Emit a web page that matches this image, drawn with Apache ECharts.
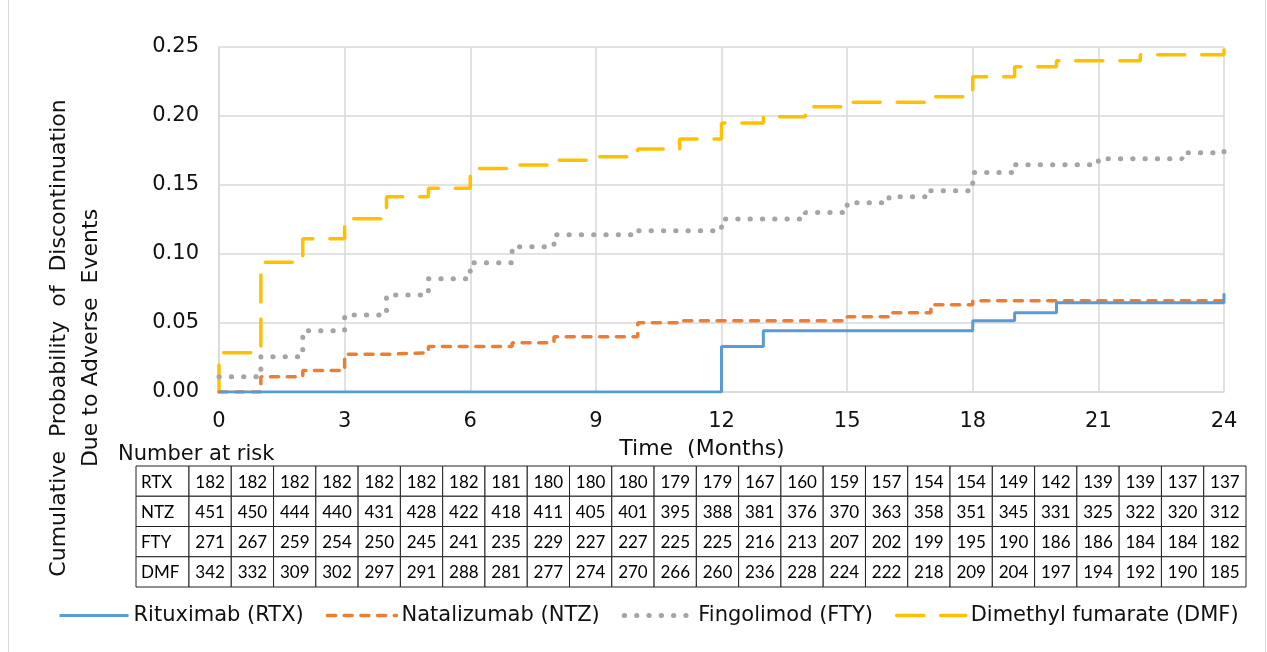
<!DOCTYPE html>
<html><head><meta charset="utf-8">
<script src="https://cdn.jsdelivr.net/npm/echarts@6/dist/echarts.min.js"></script>
<style>html,body{margin:0;padding:0;background:#fff}#c{width:1267px;height:652px}</style>
</head><body><div id="c"></div>
<script>
// Kaplan-Meier step data: [month, cumulative probability]
const rtxData = [[0,0],[12,0.0329],[13,0.0444],[18,0.0517],[19,0.0575],[20,0.0647],[24,0.0715]];
const ntzData = [[0,0],[1,0.0111],[2,0.0155],[3,0.0273],[4,0.0285],[5,0.0329],[7,0.0357],[8,0.040],[10,0.0502],[11,0.0517],[15,0.0546],[16,0.0575],[17,0.0633],[18,0.0662],[24,0.0662]];
const ftyData = [[0,0.0111],[1,0.0256],[2,0.0444],[3,0.0558],[4,0.0703],[5,0.0821],[6,0.0937],[7,0.1053],[8,0.114],[10,0.1169],[12,0.1254],[14,0.130],[15,0.1372],[16,0.1415],[17,0.1459],[18,0.159],[19,0.1647],[21,0.169],[23,0.1734],[24,0.179]];
const dmfData = [[0,0],[0,0.0285],[1,0.094],[2,0.111],[3,0.1256],[4,0.1415],[5,0.1476],[6,0.162],[7,0.1645],[8,0.168],[9,0.1705],[10,0.176],[11,0.1833],[12,0.195],[13,0.1995],[14,0.2067],[15,0.21],[17,0.214],[18,0.2285],[19,0.2357],[20,0.240],[22,0.2444],[24,0.2495]];

const seriesNames = ['Rituximab (RTX)','Natalizumab (NTZ)','Fingolimod (FTY)','Dimethyl fumarate (DMF)'];

// Number at risk table
const riskLabels = ['RTX','NTZ','FTY','DMF'];
const riskRTX = [182,182,182,182,182,182,182,181,180,180,180,179,179,167,160,159,157,154,154,149,142,139,139,137,137];
const riskNTZ = [451,450,444,440,431,428,422,418,411,405,401,395,388,381,376,370,363,358,351,345,331,325,322,320,312];
const riskFTY = [271,267,259,254,250,245,241,235,229,227,227,225,225,216,213,207,202,199,195,190,186,186,184,184,182];
const riskDMF = [342,332,309,302,297,291,288,281,277,274,270,266,260,236,228,224,222,218,209,204,197,194,192,190,185];

const riskRows = [riskRTX, riskNTZ, riskFTY, riskDMF];
const labelColWidth = 1.2535; // label column width in "month column" units
const cells = [];
riskRows.forEach((row, r) => {
  cells.push({value: [-labelColWidth, 0, r], text: riskLabels[r], label: true});
  row.forEach((v, i) => cells.push({value: [i, i + 1, r], text: String(v), label: false}));
});

const SANS = '"DejaVu Sans", "Liberation Sans", sans-serif';
const widths = [3, 3.5, 5, 3.5];

const chart = echarts.init(document.getElementById('c'), null, {renderer: 'canvas'});
chart.setOption({
  animation: false,
  backgroundColor: '#fff',
  grid: [
    {left: 219, right: 43, top: 47, bottom: 260},
    {left: 136, right: 21, top: 466, height: 121}
  ],
  xAxis: [
    {
      type: 'value', min: 0, max: 24, interval: 3, gridIndex: 0,
      axisLine: {show: true, lineStyle: {color: '#d9d9d9', width: 1.5}},
      axisTick: {show: false},
      splitLine: {show: true, lineStyle: {color: '#d9d9d9', width: 1.5}},
      axisLabel: {fontFamily: SANS, fontSize: 21, color: '#111', margin: 19},
      name: 'Time  (Months)', nameLocation: 'middle', nameGap: 57,
      nameTextStyle: {fontFamily: SANS, fontSize: 22, color: '#111', verticalAlign: 'middle', padding: [0, 39, 0, 0]}
    },
    {type: 'value', gridIndex: 1, min: -labelColWidth, max: 25, show: false}
  ],
  yAxis: [
    {
      type: 'value', min: 0, max: 0.25, interval: 0.05, gridIndex: 0,
      axisLine: {show: true, lineStyle: {color: '#d9d9d9', width: 1.5}},
      axisTick: {show: false},
      splitLine: {show: true, lineStyle: {color: '#d9d9d9', width: 1.5}},
      axisLabel: {fontFamily: SANS, fontSize: 21, color: '#111', margin: 20, formatter: v => v.toFixed(2)}
    },
    {type: 'category', gridIndex: 1, data: riskLabels, inverse: true, show: false}
  ],
  legend: {
    data: seriesNames.map((n, i) => ({name: n, lineStyle: {width: widths[i]}})),
    left: 53, top: 600,
    itemWidth: 69, itemHeight: 14, itemGap: 22,
    itemStyle: {opacity: 0},
    textStyle: {fontFamily: SANS, fontSize: 21, color: '#111'}
  },
  graphic: [
    {type: 'rect', silent: true, shape: {x: 8.5, y: -5, width: 1257, height: 670},
     style: {fill: null, stroke: '#d9d9d9', lineWidth: 1}},
    {type: 'text', x: 75, y: 338, rotation: Math.PI / 2,
     style: {text: 'Cumulative  Probability  of  Discontinuation\nDue to Adverse  Events',
       fontFamily: SANS, fontSize: 22, fill: '#111', align: 'center', verticalAlign: 'middle',
       textAlign: 'center', textVerticalAlign: 'middle', lineHeight: 32}},
    {type: 'text', x: 118, y: 455,
     style: {text: 'Number at risk', fontFamily: SANS, fontSize: 21, fill: '#111',
       align: 'left', verticalAlign: 'middle', textAlign: 'left', textVerticalAlign: 'middle'}}
  ],
  series: [
    {name: seriesNames[0], type: 'line', step: 'end', data: rtxData, symbol: 'none',
     xAxisIndex: 0, yAxisIndex: 0, z: 5,
     lineStyle: {color: '#5B9BD5', width: widths[0]}, itemStyle: {color: '#5B9BD5'}},
    {name: seriesNames[1], type: 'line', step: 'end', data: ntzData, symbol: 'none',
     xAxisIndex: 0, yAxisIndex: 0, z: 4,
     lineStyle: {color: '#ED7D31', width: widths[1], type: [8, 8.7], cap: 'round'}, itemStyle: {color: '#ED7D31'}},
    {name: seriesNames[2], type: 'line', step: 'end', data: ftyData, symbol: 'none',
     xAxisIndex: 0, yAxisIndex: 0, z: 3,
     lineStyle: {color: '#A5A5A5', width: widths[2], type: [0.3, 12], cap: 'round'}, itemStyle: {color: '#A5A5A5'}},
    {name: seriesNames[3], type: 'line', step: 'end', data: dmfData, symbol: 'none',
     xAxisIndex: 0, yAxisIndex: 0, z: 2,
     lineStyle: {color: '#FFC000', width: widths[3], type: [27, 17], cap: 'round'}, itemStyle: {color: '#FFC000'}},
    {
      name: 'risk', type: 'custom', xAxisIndex: 1, yAxisIndex: 1, silent: true,
      data: cells.map(c => c.value),
      encode: {x: [0, 1], y: 2},
      renderItem: function (params, api) {
        const cell = cells[params.dataIndex];
        const row = api.value(2);
        const p0 = api.coord([api.value(0), row]);
        const p1 = api.coord([api.value(1), row]);
        const h = api.size([0, 1])[1];
        const x = p0[0], y = p0[1] - h / 2, w = p1[0] - p0[0];
        return {
          type: 'group',
          children: [
            {type: 'rect', shape: {x: x, y: y, width: w, height: h},
             style: {fill: '#fff', stroke: '#222', lineWidth: 1}},
            {type: 'text',
             style: {text: cell.text, x: cell.label ? x + 5 : x + w / 2, y: y + h / 2 + 1,
               align: cell.label ? 'left' : 'center', verticalAlign: 'middle',
               fontFamily: 'Lato, "Open Sans", sans-serif', fontSize: 17, fill: '#000'}}
          ]
        };
      }
    }
  ]
});
</script>
</body></html>
